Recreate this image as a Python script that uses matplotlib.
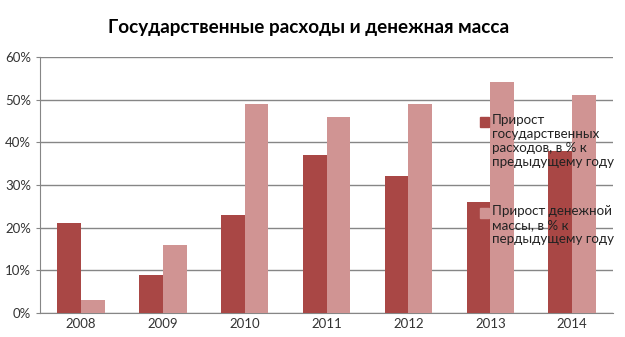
import numpy as np
import matplotlib
matplotlib.use("Agg")
import matplotlib.pyplot as plt
from matplotlib.patches import Rectangle

plt.rcParams['font.family'] = ['Lato', 'DejaVu Sans']

years = ['2008', '2009', '2010', '2011', '2012', '2013', '2014']
gov_spending = [21, 9, 23, 37, 32, 26, 38]
money_supply = [3, 16, 49, 46, 49, 54, 51]
labels = ['Прирост\nгосударственных\nрасходов, в % к\nпредыдущему году',
          'Прирост денежной\nмассы, в % к\nпердыдущему году']

c_dark = '#A94745'
c_light = '#D09493'

W, H = 625, 337
fig = plt.figure(figsize=(W / 100, H / 100), dpi=100)
ax = fig.add_axes([0.064, 0.0712, 0.917, 0.76])

x = np.arange(len(years))
w = 0.29
ax.bar(x - w / 2, gov_spending, w, color=c_dark, zorder=3)
ax.bar(x + w / 2, money_supply, w, color=c_light, zorder=3)

ax.set_xlim(-0.5, len(years) - 0.5)
ax.set_ylim(0, 60)
ax.set_yticks(range(0, 61, 10))
ax.set_yticklabels([f'{v}%' for v in range(0, 61, 10)])
ax.set_xticks(x)
ax.set_xticklabels(years)
ax.tick_params(axis='both', labelsize=9.5, colors='#333333', length=3, color='#868686')
ax.tick_params(axis='x', length=0)
ax.yaxis.grid(True, color='#868686', linewidth=1, zorder=0)
for s in ['top', 'right']:
    ax.spines[s].set_visible(False)
for s in ['left', 'bottom']:
    ax.spines[s].set_color('#868686')

fig.text(309 / W, 1 - 27 / H, 'Государственные расходы и денежная масса',
         ha='center', va='center', fontsize=13.6, fontweight='bold')

# legend drawn by hand so the swatch sits at the first line
for (top, col, lab) in [(122, c_dark, labels[0]), (213, c_light, labels[1])]:
    fig.patches.append(Rectangle((480 / W, 1 - (top + 5) / H), 9 / W, 10 / H,
                                 color=col, transform=fig.transFigure, zorder=5))
    fig.text(492 / W, 1 - (top - 8) / H, lab, ha='left', va='top',
             fontsize=9.6, color='#222222', linespacing=1.2, zorder=6)

fig.savefig('out.png', dpi=100)
